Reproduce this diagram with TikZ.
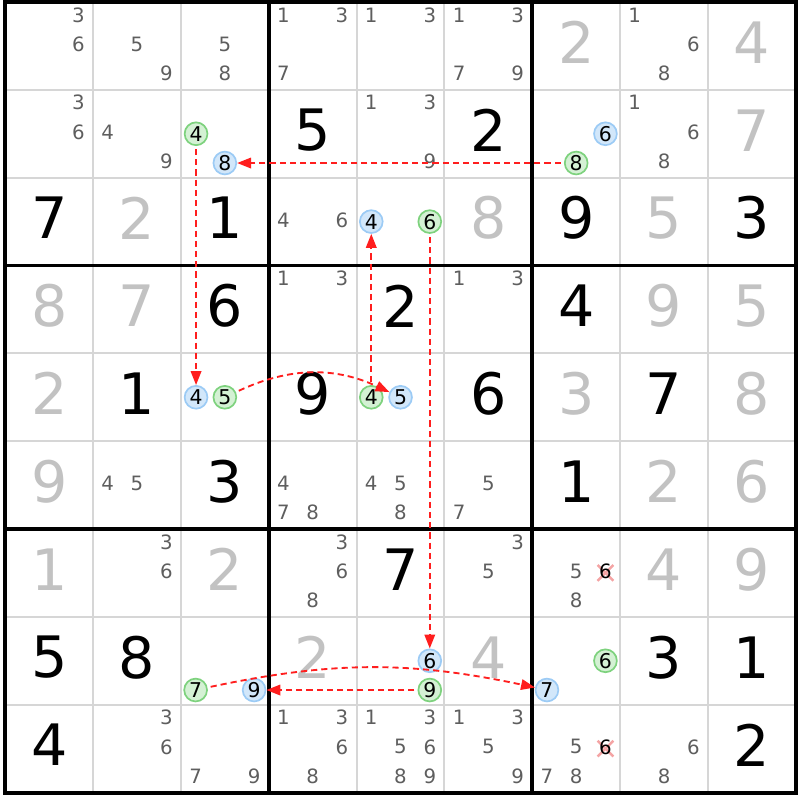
\documentclass[tikz,border=0pt]{standalone}
\usepackage{fontspec}
\setmainfont{DejaVu Sans}
\usetikzlibrary{arrows.meta}

\definecolor{pmgray}{HTML}{5E5E5E}
\definecolor{solgray}{HTML}{C2C2C2}
\definecolor{gridgray}{HTML}{D6D6D6}
\definecolor{onfill}{HTML}{D4F1D4}
\definecolor{ondraw}{HTML}{7ED27E}
\definecolor{offfill}{HTML}{D2E7FA}
\definecolor{offdraw}{HTML}{9CCBF5}
\definecolor{linkred}{HTML}{FF1E1E}
\definecolor{crosspink}{HTML}{F4A4A4}

\tikzset{
  fixed/.style={font=\fontsize{18.5}{18.5}\selectfont, text=black, inner sep=0pt, yshift=0.4mm},
  solved/.style={fixed, text=solgray},
  pencil/.style={font=\fontsize{6.4}{6.4}\selectfont, text=pmgray, inner sep=0pt, yshift=0.2mm},
  oncand/.style={font=\fontsize{6.6}{6.6}\selectfont, text=black, circle, inner sep=0pt,
    minimum size=0.26cm, draw=ondraw, fill=onfill, line width=0.55pt},
  offcand/.style={oncand, draw=offdraw, fill=offfill},
  link/.style={linkred, line width=0.6pt, dash pattern=on 2pt off 1.3pt,
    -{Triangle[length=4.5pt,width=3.4pt]}, shorten <=1pt},
  crossmark/.style={crosspink, line width=0.8pt},
}

\begin{document}
\begin{tikzpicture}
\useasboundingbox (-0.060,-0.085) rectangle (9.048,9.023);

% grid
\foreach \i in {1,2,4,5,7,8} {
  \draw[gridgray, line width=0.65pt] (\i,0) -- (\i,9);
  \draw[gridgray, line width=0.65pt] (0,\i) -- (9,\i);
}
\foreach \i in {3,6} {
  \draw[line width=1.2pt] (\i,0) -- (\i,9);
  \draw[line width=1.2pt] (0,\i) -- (9,\i);
}
\draw[line width=1.3pt] (0,0) rectangle (9,9);

%--------------------------------------------------------
% given digits (row/col/digit)
\foreach \r/\c/\d in {2/4/5, 2/6/2, 3/1/7, 3/3/1, 3/7/9, 3/9/3, 4/3/6, 4/5/2, 4/7/4,
    5/2/1, 5/4/9, 5/6/6, 5/8/7, 6/3/3, 6/7/1, 7/5/7, 8/1/5, 8/2/8, 8/8/3, 8/9/1,
    9/1/4, 9/9/2}
  \node[fixed] (fix\r\c) at ({\c-0.5},{9.5-\r}) {\d};

% solved digits
\foreach \r/\c/\d in {1/7/2, 1/9/4, 2/9/7, 3/2/2, 3/6/8, 3/8/5, 4/1/8, 4/2/7, 4/8/9,
    4/9/5, 5/1/2, 5/7/3, 5/9/8, 6/1/9, 6/8/2, 6/9/6, 7/1/1, 7/3/2, 7/8/4, 7/9/9,
    8/4/2, 8/6/4}
  \node[solved] (sol\r\c) at ({\c-0.5},{9.5-\r}) {\d};

% pencil marks
\foreach \r/\c/\ks in {1/1/{3,6}, 1/2/{5,9}, 1/3/{5,8}, 1/4/{1,3,7}, 1/5/{1,3},
    1/6/{1,3,7,9}, 1/8/{1,6,8}, 2/1/{3,6}, 2/2/{4,9}, 2/5/{1,3,9}, 2/8/{1,6,8},
    3/4/{4,6}, 4/4/{1,3}, 4/6/{1,3}, 6/2/{4,5}, 6/4/{4,7,8}, 6/5/{4,5,8}, 6/6/{5,7},
    7/2/{3,6}, 7/4/{3,6,8}, 7/6/{3,5}, 7/7/{5,8}, 9/2/{3,6}, 9/3/{7,9},
    9/4/{1,3,6,8}, 9/5/{1,3,5,6,8,9}, 9/6/{1,3,5,9}, 9/7/{5,7,8}, 9/8/{6,8}}
  \foreach \k in \ks {
    \pgfmathsetmacro\px{\c-1+(2*mod(\k-1,3)+1)/6}
    \pgfmathsetmacro\py{10-\r-(2*floor((\k-1)/3)+1)/6}
    \node[pencil] (pm\r\c\k) at (\px,\py) {\k};
  }

% eliminated 6s
\draw[crossmark] (6.743,2.41) -- (6.923,2.59);
\draw[crossmark] (6.743,2.59) -- (6.923,2.41);
\draw[crossmark] (6.743,0.41) -- (6.923,0.59);
\draw[crossmark] (6.743,0.59) -- (6.923,0.41);
\node[pencil, text=black] (pm776) at (6.833,2.5) {6};
\node[pencil, text=black] (pm976) at (6.833,0.5) {6};

%--------------------------------------------------------
% chain candidates
\node[oncand]  (on23)  at (2.172,7.5)   {4};
\node[offcand] (off23) at (2.5,7.167)   {8};
\node[offcand] (off27) at (6.833,7.5)   {6};
\node[oncand]  (on27)  at (6.5,7.167)   {8};
\node[offcand] (off35) at (4.167,6.5)   {4};
\node[oncand]  (on35)  at (4.833,6.5)   {6};
\node[offcand] (off53) at (2.172,4.5)   {4};
\node[oncand]  (on53)  at (2.5,4.5)     {5};
\node[oncand]  (on55)  at (4.167,4.5)   {4};
\node[offcand] (off55) at (4.5,4.5)     {5};
\node[oncand]  (on83)  at (2.167,1.167) {7};
\node[offcand] (off83) at (2.833,1.167) {9};
\node[offcand] (off85) at (4.833,1.5)   {6};
\node[oncand]  (on85)  at (4.833,1.167) {9};
\node[oncand]  (on87)  at (6.833,1.5)   {6};
\node[offcand] (off87) at (6.167,1.167) {7};

% links
\draw[link] (on27) -- (off23);
\draw[link] (on23) -- (off53);
\draw[link] (on53) to[bend left=25] (off55);
\draw[link] (on55) -- (off35);
\draw[link] (on35) -- (off85);
\draw[link] (on85) -- (off83);
\draw[link] (on83) to[bend left=12] (off87);
\end{tikzpicture}
\end{document}
